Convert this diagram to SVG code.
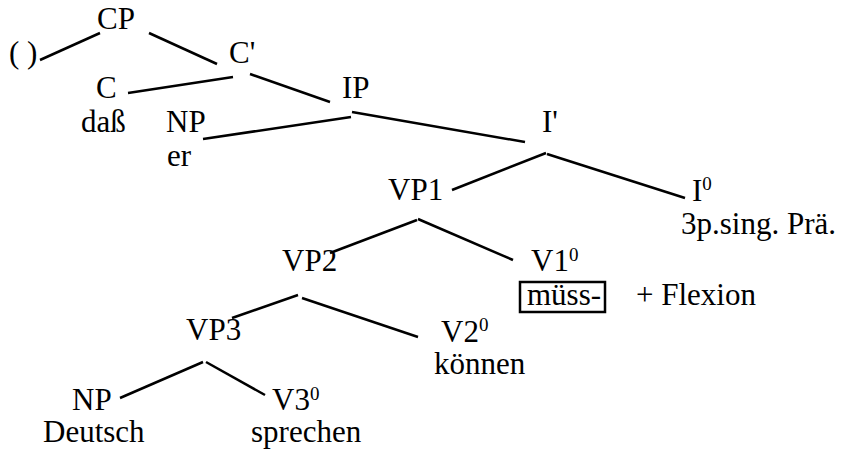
<svg xmlns="http://www.w3.org/2000/svg" width="841" height="452" viewBox="0 0 841 452" font-family="'Liberation Serif', Tinos, 'Times New Roman', 'DejaVu Serif', serif">
<style>
text{font-family:"Liberation Serif",Tinos,"Times New Roman","DejaVu Serif",serif;font-size:31px;fill:#000}
.sup{font-size:19px}
#connectors line{stroke:#000;stroke-width:2.5;stroke-linecap:butt}
.box{fill:none;stroke:#000;stroke-width:2.5}
</style>
<rect width="841" height="452" fill="#fff"/>
<g id="connectors">
<line x1="40" y1="60" x2="100" y2="33"/>
<line x1="149" y1="33" x2="217" y2="64"/>
<line x1="128" y1="93" x2="233" y2="77"/>
<line x1="250" y1="74" x2="330" y2="102"/>
<line x1="203" y1="139" x2="351" y2="117"/>
<line x1="352" y1="112" x2="525" y2="142"/>
<line x1="452" y1="190" x2="546" y2="153"/>
<line x1="547" y1="154" x2="685" y2="198"/>
<line x1="330" y1="253" x2="417" y2="220"/>
<line x1="418" y1="219" x2="513" y2="260"/>
<line x1="232" y1="318" x2="298" y2="295"/>
<line x1="302" y1="298" x2="418" y2="337"/>
<line x1="120" y1="398" x2="203" y2="362"/>
<line x1="206" y1="362" x2="265" y2="395"/>
</g>
<g id="n-CP"><text x="97" y="29">CP</text></g>
<g id="n-spec"><text x="9" y="63">( )</text></g>
<g id="n-Cbar"><text x="229" y="63">C'</text></g>
<g id="n-C"><text x="96" y="98">C</text><text x="81" y="132">daß</text></g>
<g id="n-IP"><text x="342" y="98">IP</text></g>
<g id="n-NP1"><text x="166" y="132">NP</text><text x="167" y="166">er</text></g>
<g id="n-Ibar"><text x="542" y="132">I'</text></g>
<g id="n-VP1"><text x="388" y="200">VP1</text></g>
<g id="n-I0"><text x="692" y="201">I<tspan class="sup" dy="-11">0</tspan></text><text x="681" y="234">3p.sing. Prä.</text></g>
<g id="n-VP2"><text x="282" y="271">VP2</text></g>
<g id="n-V1"><text x="531" y="271">V1<tspan class="sup" dy="-10">0</tspan></text>
<rect class="box" x="520" y="282" width="85" height="30"/><text x="527" y="305">müss-</text><text x="636" y="305">+ Flexion</text></g>
<g id="n-VP3"><text x="186" y="340">VP3</text></g>
<g id="n-V2"><text x="441" y="342">V2<tspan class="sup" dy="-11">0</tspan></text><text x="434" y="374">können</text></g>
<g id="n-NP2"><text x="72" y="410">NP</text><text x="43" y="442">Deutsch</text></g>
<g id="n-V3"><text x="272" y="410">V3<tspan class="sup" dy="-10">0</tspan></text><text x="251" y="442">sprechen</text></g>
</svg>
